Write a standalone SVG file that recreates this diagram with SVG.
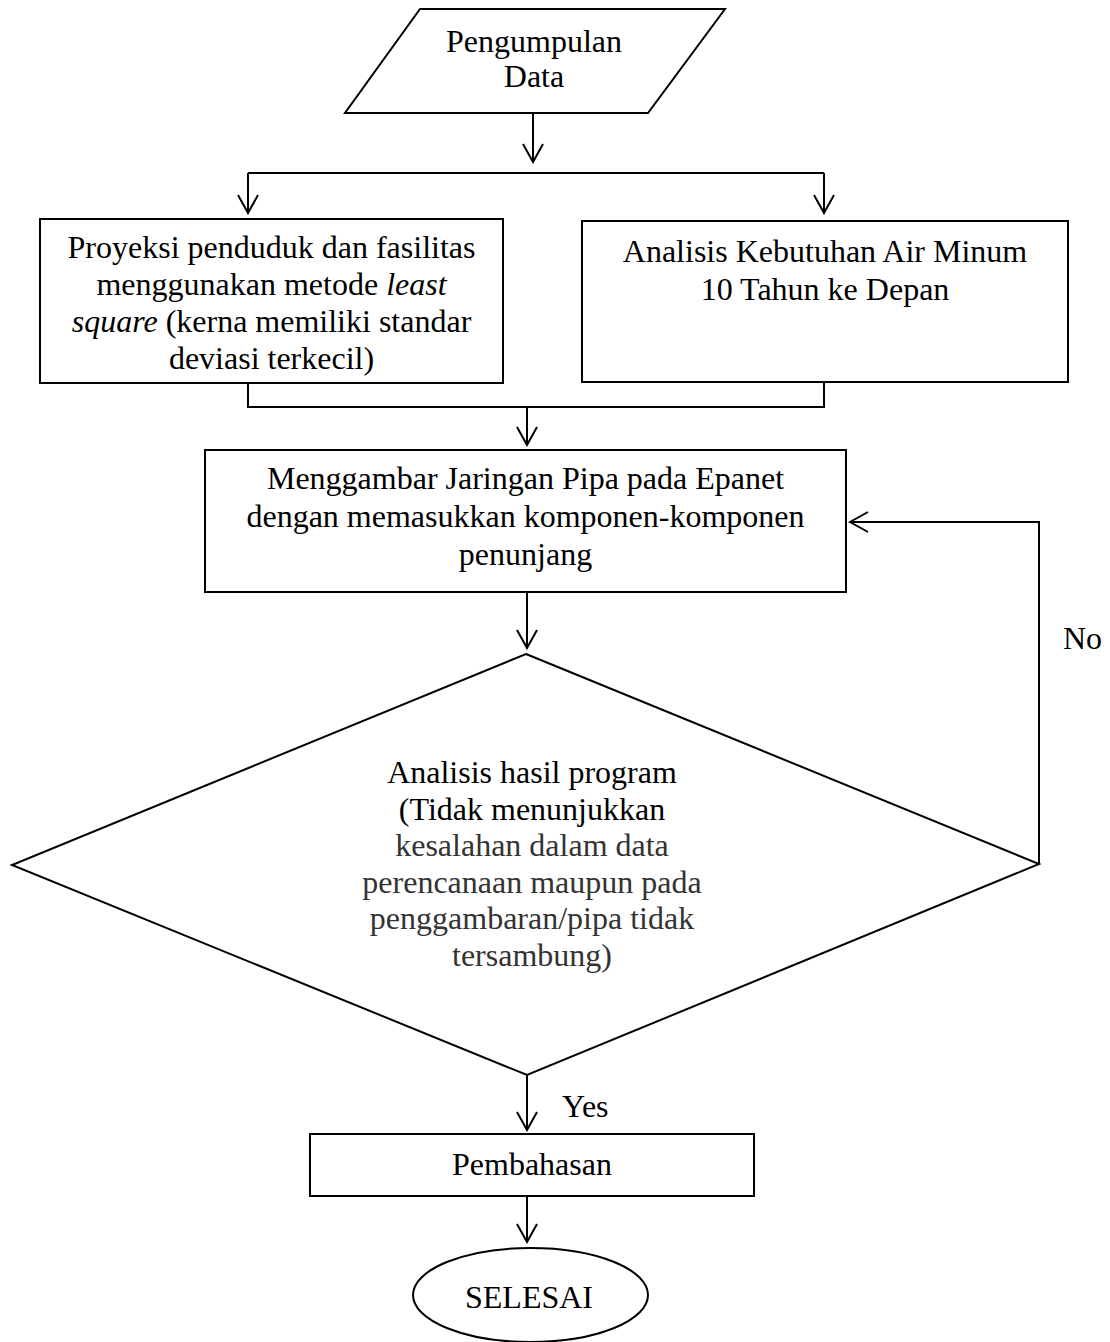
<svg xmlns="http://www.w3.org/2000/svg" width="1110" height="1342" viewBox="0 0 1110 1342">
<style>
.s{fill:none;stroke:#000;stroke-width:2}
.n{fill:#fff;stroke:#000;stroke-width:2}
text{font-family:"Liberation Serif","Times New Roman",serif;font-size:32px;fill:#000}
.c{text-anchor:middle}
.g{fill:#333}
.i{font-style:italic}
</style>
<defs>
<marker id="ah" viewBox="-20 -12 22 24" markerWidth="22" markerHeight="24" refX="0" refY="0" markerUnits="userSpaceOnUse" orient="auto">
<path d="M-18,-10 L0,0 L-18,10" fill="none" stroke="#000" stroke-width="2"/>
</marker>
</defs>
<rect x="0" y="0" width="1110" height="1342" fill="#fff"/>
<g id="connectors">
<line class="s" x1="533" y1="113" x2="533" y2="162" marker-end="url(#ah)"/>
<polyline class="s" points="248,173 824,173"/>
<line class="s" x1="248" y1="173" x2="248" y2="213" marker-end="url(#ah)"/>
<line class="s" x1="824" y1="173" x2="824" y2="213" marker-end="url(#ah)"/>
<polyline class="s" points="248,383 248,407 824,407 824,382"/>
<line class="s" x1="527" y1="407" x2="527" y2="445" marker-end="url(#ah)"/>
<line class="s" x1="527" y1="592" x2="527" y2="648" marker-end="url(#ah)"/>
<polyline class="s" points="1039,864 1039,522 850,522" marker-end="url(#ah)"/>
<text x="1063" y="649">No</text>
<line class="s" x1="527" y1="1075" x2="527" y2="1130" marker-end="url(#ah)"/>
<text x="562" y="1117">Yes</text>
<line class="s" x1="527" y1="1196" x2="527" y2="1242" marker-end="url(#ah)"/>
</g>
<g id="start">
<polygon class="n" points="420,9 725,9 648,113 345,113"/>
<text class="c" x="534" y="52">Pengumpulan</text>
<text class="c" x="534" y="87">Data</text>
</g>
<g id="proyeksi">
<rect class="n" x="40" y="219" width="463" height="164"/>
<text class="c" x="271.5" y="258">Proyeksi penduduk dan fasilitas</text>
<text class="c" x="271.5" y="295">menggunakan metode <tspan class="i">least</tspan></text>
<text class="c" x="271.5" y="332"><tspan class="i">square</tspan> (kerna memiliki standar</text>
<text class="c" x="271.5" y="369">deviasi terkecil)</text>
</g>
<g id="analisis-kebutuhan">
<rect class="n" x="582" y="221" width="486" height="161"/>
<text class="c" x="825" y="262">Analisis Kebutuhan Air Minum</text>
<text class="c" x="825" y="300">10 Tahun ke Depan</text>
</g>
<g id="menggambar">
<rect class="n" x="205" y="450" width="641" height="142"/>
<text class="c" x="525.5" y="489">Menggambar Jaringan Pipa pada Epanet</text>
<text class="c" x="525.5" y="527">dengan memasukkan komponen-komponen</text>
<text class="c" x="525.5" y="565">penunjang</text>
</g>
<g id="decision">
<polygon class="n" points="526,654 1039,864 527,1075 12,865"/>
<text class="c" x="532" y="783">Analisis hasil program</text>
<text class="c" x="532" y="819.5">(Tidak menunjukkan</text>
<text class="c g" x="532" y="856">kesalahan dalam data</text>
<text class="c g" x="532" y="892.5">perencanaan maupun pada</text>
<text class="c g" x="532" y="929">penggambaran/pipa tidak</text>
<text class="c g" x="532" y="965.5">tersambung)</text>
</g>
<g id="pembahasan">
<rect class="n" x="310" y="1134" width="444" height="62"/>
<text class="c" x="532" y="1175">Pembahasan</text>
</g>
<g id="selesai">
<ellipse class="n" cx="530.5" cy="1295" rx="117.5" ry="47"/>
<text class="c" x="529" y="1308">SELESAI</text>
</g>
</svg>
